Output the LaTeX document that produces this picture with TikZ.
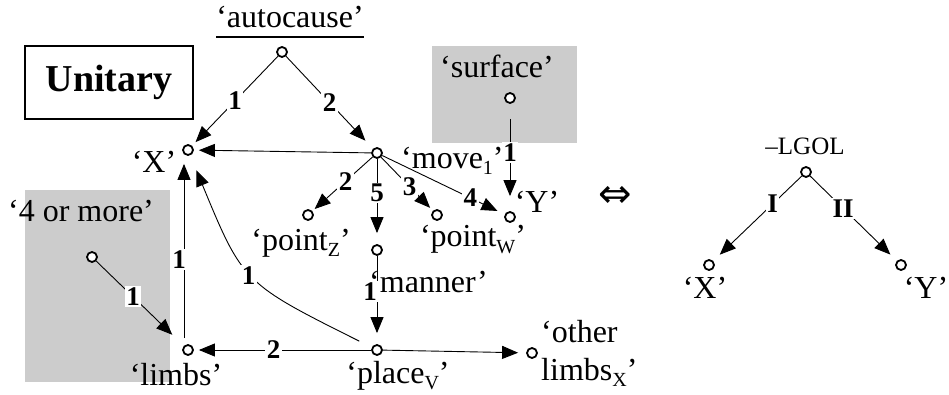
\documentclass[tikz,border=0pt]{standalone}
\usepackage{fontspec}
\setmainfont{Liberation Serif}
\newfontfamily\symfont{DejaVu Sans}
\usetikzlibrary{arrows.meta}
\definecolor{boxgray}{HTML}{CCCCCC}
\newcommand\lsub[1]{\raisebox{-6pt}{\fontsize{20}{20}\selectfont #1}}
\begin{document}
\begin{tikzpicture}[x=1pt,y=-1pt,
  pt/.style={circle,draw,line width=1.8pt,fill=white,inner sep=0pt,minimum size=10pt},
  lab/.style={font=\fontsize{32}{38}\selectfont,inner sep=0pt},
  num/.style={font=\fontsize{27}{27}\selectfont\bfseries,fill=white,inner sep=1.5pt},
  arr/.style={line width=0.9pt,-{Triangle[length=16pt,width=13pt]},shorten >=5pt}]
\useasboundingbox (0,0) rectangle (949,395);
% shaded regions
\fill[boxgray] (25,190) rectangle (170,382);
\fill[boxgray] (432,46) rectangle (577,143);
% Unitary box
\node[draw,line width=1.5pt,minimum width=168pt,minimum height=73pt,inner sep=0pt,
  font=\fontsize{38}{38}\selectfont\bfseries] (unit) at (109,82.5) {Unitary};
% points
\node[pt] (auto) at (282,52) {};
\node[pt] (X) at (188,150) {};
\node[pt] (move) at (377,153) {};
\node[pt] (surf) at (510,98) {};
\node[pt] (Y) at (510,217) {};
\node[pt] (pz) at (308,215) {};
\node[pt] (pw) at (437,215) {};
\node[pt] (man) at (377,250) {};
\node[pt] (place) at (377,350) {};
\node[pt] (limbs) at (188,350) {};
\node[pt] (four) at (92,257) {};
\node[pt] (other) at (532,353) {};
\node[pt] (lg) at (806,172) {};
\node[pt] (lx) at (709,265) {};
\node[pt] (ly) at (901,265) {};
% labels
\node[lab,anchor=base] (autoL) at (290,28) {‘autocause’};
\draw[line width=1.2pt] ([yshift=-9pt]autoL.base west) -- ([yshift=-9pt]autoL.base east);
\node[lab,anchor=base] (XL) at (154,173) {‘X’};
\node[lab,anchor=base west] (moveL) at (401,169) {‘move\lsub{1}’};
\node[lab,anchor=base] (surfL) at (497,78) {‘surface’};
\node[lab,anchor=base] (YL) at (537,212) {‘Y’};
\node[lab,anchor=base] (pzL) at (301,250) {‘point\lsub{Z}’};
\node[lab,anchor=base] (pwL) at (473,247) {‘point\lsub{W}’};
\node[lab,anchor=base west] (manL) at (369,292) {‘manner’};
\node[lab,anchor=base] (fourL) at (81,222) {‘4 or more’};
\node[lab,anchor=base] (limbsL) at (176,385) {‘limbs’};
\node[lab,anchor=base] (placeL) at (398,383) {‘place\lsub{V}’};
\node[lab,anchor=base west,align=left] (otherL) at (541,380) {‘other\\limbs\lsub{X}’};
\node[font=\fontsize{25}{25}\selectfont,inner sep=0pt,anchor=base] (lgL) at (805,155) {–LGOL};
\node[lab,anchor=base] (lxL) at (705,298) {‘X’};
\node[lab,anchor=base] (lyL) at (926,298) {‘Y’};
\node[font=\fontsize{40}{40}\symfont,inner sep=0pt] (equiv) at (615,197) {⇔};
% connectors
\draw[arr] (auto) -- node[num]{1} (X);
\draw[arr,shorten >=11pt] (auto) -- node[num]{2} (move);
\draw[arr] (move) -- (X);
\draw[arr,shorten >=3pt] (move) -- node[num,pos=0.45]{2} (pz);
\draw[arr,shorten >=11pt] (move) -- node[num,pos=0.4]{5} (man);
\draw[arr,shorten >=4pt] (move) -- node[num,pos=0.55]{3} (pw);
\draw[arr,shorten >=8pt] (move) -- node[num,pos=0.72]{4} (Y);
\draw[arr,shorten <=15pt,shorten >=15pt] (surf) -- node[num,pos=0.45]{1} (Y);
\draw[arr,shorten >=11pt] (man) -- node[num,pos=0.4,xshift=-7pt]{1} (place);
\draw[arr] (place) -- node[num,pos=0.55]{2} (limbs);
\draw[arr,shorten >=8pt] (place) -- (other);
\draw[arr,shorten <=14pt,shorten >=16pt] (place) .. controls (243,283) and (243,283) .. node[num,pos=0.5,xshift=-4pt]{1} (X);
\draw[arr,shorten >=0pt] ([shift={(-4pt,6pt)}]limbs.north) -- node[num,pos=0.45,xshift=-5pt]{1} ([shift={(-4pt,-8pt)}]X.south);
\draw[arr,shorten >=16pt] (four) -- node[num,pos=0.42]{1} (limbs);
\draw[arr,shorten >=9pt] (lg) -- node[num,pos=0.33]{I} (lx);
\draw[arr,shorten >=9pt] (lg) -- node[num,pos=0.38]{II} (ly);
\end{tikzpicture}
\end{document}
